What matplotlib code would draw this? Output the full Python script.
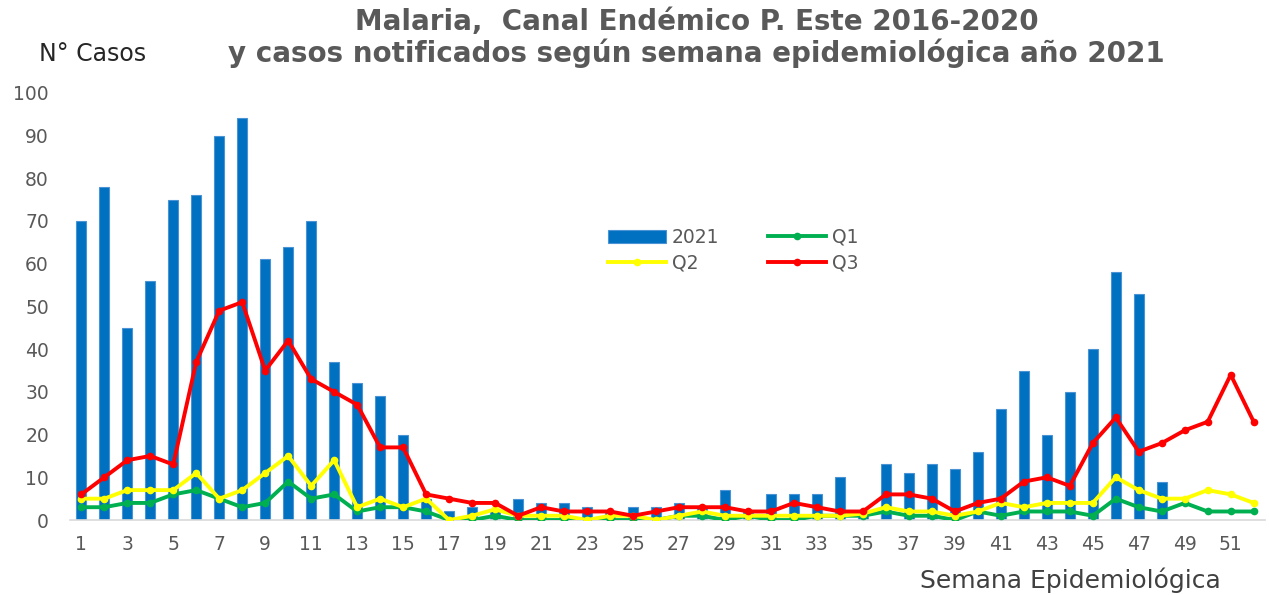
import numpy as np
import matplotlib
matplotlib.use('Agg')
import matplotlib.pyplot as plt

# semanas epidemiologicas
semanas = np.arange(1, 53)

# casos 2021 (semanas 1-48)
casos_2021 = [70, 78, 45, 56, 75, 76, 90, 94, 61, 64, 70, 37, 32, 29, 20, 5,
              2, 3, 2, 5, 4, 4, 3, 2, 3, 3, 4, 3, 7, 2, 6, 6, 6, 10, 2, 13,
              11, 13, 12, 16, 26, 35, 20, 30, 40, 58, 53, 9]

# canal endemico 2016-2020
q1 = [3, 3, 4, 4, 6, 7, 5, 3, 4, 9, 5, 6, 2, 3, 3, 2, 0, 0, 1, 0, 0, 0, 0, 0,
      0, 0, 1, 1, 0, 1, 0, 0, 1, 1, 1, 2, 1, 1, 0, 2, 1, 2, 2, 2, 1, 5, 3, 2,
      4, 2, 2, 2]
q2 = [5, 5, 7, 7, 7, 11, 5, 7, 11, 15, 8, 14, 3, 5, 3, 5, 0, 1, 2.5, 1, 1, 1,
      0, 1, 1, 0, 1, 2, 1, 1, 1, 1, 1, 1, 1.5, 3, 2, 2, 1, 2, 4, 3, 4, 4, 4,
      10, 7, 5, 5, 7, 6, 4]
q3 = [6, 10, 14, 15, 13, 37, 49, 51, 35, 42, 33, 30, 27, 17, 17, 6, 5, 4, 4,
      1, 3, 2, 2, 2, 1, 2, 3, 3, 3, 2, 2, 4, 3, 2, 2, 6, 6, 5, 2, 4, 5, 9, 10,
      8, 18, 24, 16, 18, 21, 23, 34, 23]

gris = '#595959'

fig = plt.figure(figsize=(12.69, 5.95), dpi=100)
ax = fig.add_axes([0.055, 0.126, 0.942, 0.718])

ax.bar(semanas[:len(casos_2021)], casos_2021, width=0.42, color='#0070C0',
       edgecolor='#4a94d6', linewidth=0.8, label='2021', zorder=2)
ax.plot(semanas, q1, color='#00B050', lw=2.8, marker='o', ms=4.5, label='Q1', zorder=3)
ax.plot(semanas, q2, color='#FFFF00', lw=2.8, marker='o', ms=4.5, label='Q2', zorder=4)
ax.plot(semanas, q3, color='#FF0000', lw=2.8, marker='o', ms=4.5, label='Q3', zorder=5)

ax.set_xlim(0.5, 52.5)
ax.set_ylim(0, 100)
ax.set_yticks(range(0, 101, 10))
ax.set_xticks(semanas[::2])
ax.tick_params(axis='both', length=0, labelsize=13.5, labelcolor=gris)
ax.tick_params(axis='x', pad=11)
ax.tick_params(axis='y', pad=15)

for s in ['top', 'right', 'left']:
    ax.spines[s].set_visible(False)
ax.spines['bottom'].set_color('#d9d9d9')
ax.spines['bottom'].set_linewidth(1.2)

# legend: 2021 / Q1 on top row, Q2 / Q3 below
h, l = ax.get_legend_handles_labels()
orden = [l.index('2021'), l.index('Q2'), l.index('Q1'), l.index('Q3')]
leg = ax.legend([h[i] for i in orden], [l[i] for i in orden], ncol=2,
                loc='center', bbox_to_anchor=(0.555, 0.632), frameon=False,
                fontsize=13.5, handlelength=3.1, columnspacing=2.6,
                labelspacing=0.35, handletextpad=0.3)
for t in leg.get_texts():
    t.set_color(gris)

fig.text(0.549, 0.963, 'Malaria,  Canal Endémico P. Este 2016-2020',
         ha='center', va='center', fontsize=20, fontweight='bold', color=gris)
fig.text(0.549, 0.911, 'y casos notificados según semana epidemiológica año 2021',
         ha='center', va='center', fontsize=20, fontweight='bold', color=gris)
fig.text(0.031, 0.910, 'N° Casos', ha='left', va='center', fontsize=17, color='#262626')
fig.text(0.725, 0.025, 'Semana Epidemiológica', ha='left', va='center',
         fontsize=18, color='#404040')

plt.savefig('out.png', dpi=100)
